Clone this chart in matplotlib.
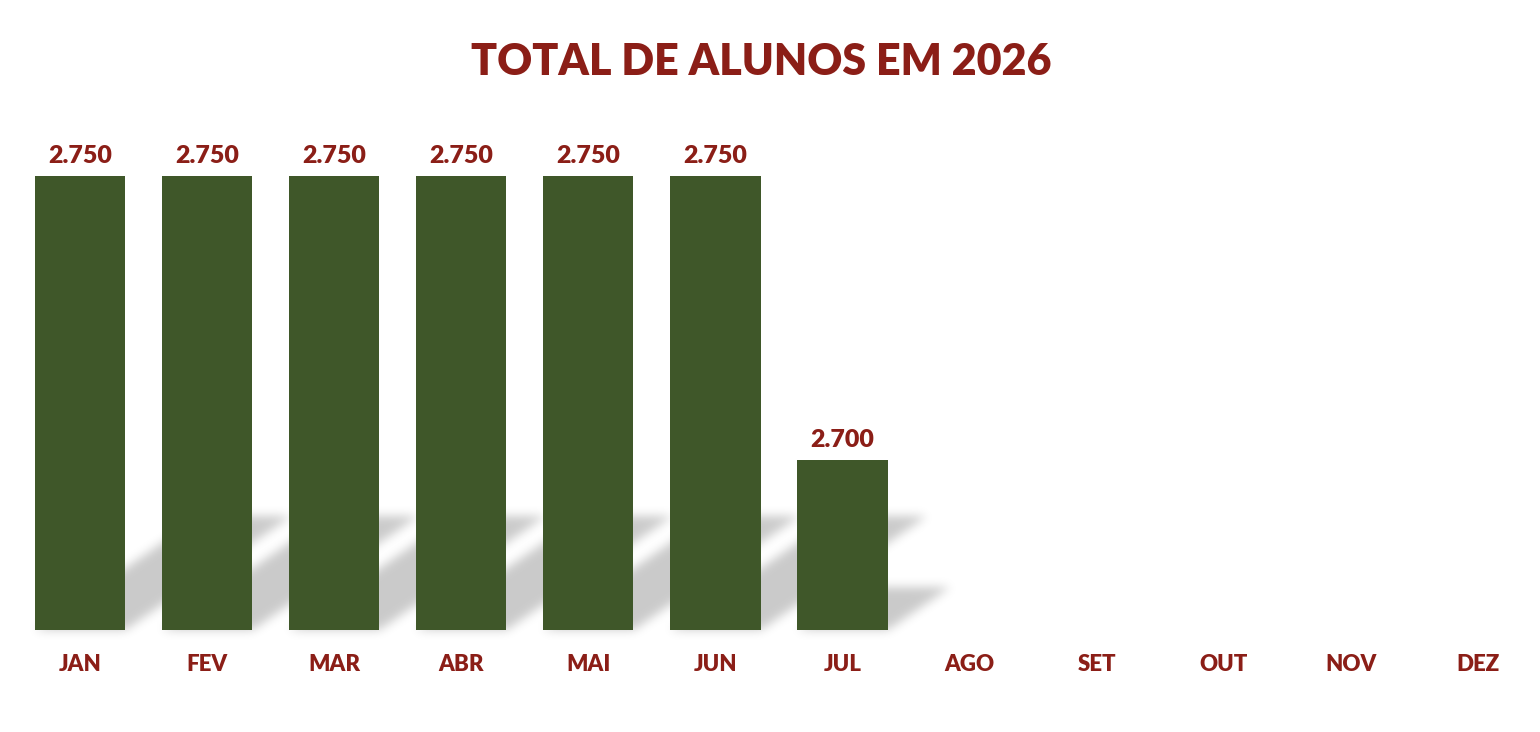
import matplotlib
matplotlib.use("Agg")
import numpy as np
import matplotlib.pyplot as plt
from matplotlib.path import Path

months = ["JAN", "FEV", "MAR", "ABR", "MAI", "JUN", "JUL", "AGO", "SET", "OUT", "NOV", "DEZ"]
values = [2750, 2750, 2750, 2750, 2750, 2750, 2700, None, None, None, None, None]
labels = ["2.750", "2.750", "2.750", "2.750", "2.750", "2.750", "2.700"]
title = "TOTAL DE ALUNOS EM 2026"

BAR = "#3F5729"
RED = "#8B1E17"
FONT = ["Lato", "DejaVu Sans"]

W, H = 1540, 732
fig = plt.figure(figsize=(W / 100, H / 100), dpi=100)
fig.patch.set_facecolor("white")
ax_left, ax_right = 16.5, 1541.5
ax_bottom_px, ax_top_px = 630, 100
ax = fig.add_axes([ax_left / W, (H - ax_bottom_px) / H,
                   (ax_right - ax_left) / W, (ax_bottom_px - ax_top_px) / H])
ax.patch.set_visible(False)
ymin = 2670
ppu = 5.68
ax.set_xlim(-0.5, len(months) - 0.5)
ax.set_ylim(ymin, ymin + (ax_bottom_px - ax_top_px) / ppu)

xs = [i for i, v in enumerate(values) if v is not None]
vs = [v for v in values if v is not None]
bw = 0.71
ax.bar(xs, [v - ymin for v in vs], bottom=ymin, width=bw, color=BAR, zorder=3)

# perspective shadows rendered as a blurred raster
gx, gy = np.meshgrid(np.arange(W) + 0.5, np.arange(H) + 0.5)
pts_grid = np.column_stack([gx.ravel(), gy.ravel()])
mask = np.zeros(H * W)
for x, v in zip(xs, vs):
    (Lp, bp), (Rp, tp) = ax.transData.transform([(x - bw / 2, ymin), (x + bw / 2, v)])
    hpx = tp - bp
    dx = 0.365 * hpx
    dy = 0.25 * hpx
    poly = Path([(Lp, bp), (Rp, bp), (Rp + dx, bp + dy), (Lp + dx, bp + dy), (Lp, bp)])
    mask = np.maximum(mask, poly.contains_points(pts_grid).astype(float))
mask = mask.reshape(H, W)
sigma = 5.0
r = int(3 * sigma)
k = np.exp(-0.5 * (np.arange(-r, r + 1) / sigma) ** 2)
k /= k.sum()
pad = np.pad(mask, r)
b1 = np.zeros_like(pad)
for i in range(2 * r + 1):
    b1[:, r:-r] += k[i] * pad[:, i:i + W]
b2 = np.zeros_like(pad)
for i in range(2 * r + 1):
    b2[r:-r, :] += k[i] * b1[i:i + H, :]
blurred = b2[r:-r, r:-r]
rgba = np.zeros((H, W, 4))
rgba[..., 3] = 0.21 * blurred
fig.figimage(rgba, xo=0, yo=0, origin="lower", zorder=0.5)

for x, v, lab in zip(xs, vs, labels):
    ax.annotate(lab, (x, v), xytext=(0, 6), textcoords="offset points",
                ha="center", va="bottom", color=RED, fontsize=18,
                fontweight="heavy", family=FONT, clip_on=False)

ax.set_xticks(range(len(months)))
ax.set_xticklabels(months, color=RED, fontsize=16, fontweight="heavy", family=FONT)
ax.tick_params(axis="x", length=0, pad=17)
ax.set_yticks([])
for s in ax.spines.values():
    s.set_visible(False)
ax.set_zorder(1)

fig.text(761 / W, 1 - 62 / H, title, ha="center", va="center", color=RED,
         fontsize=31, fontweight="heavy", family=FONT)

fig.savefig("out.png", dpi=100)
